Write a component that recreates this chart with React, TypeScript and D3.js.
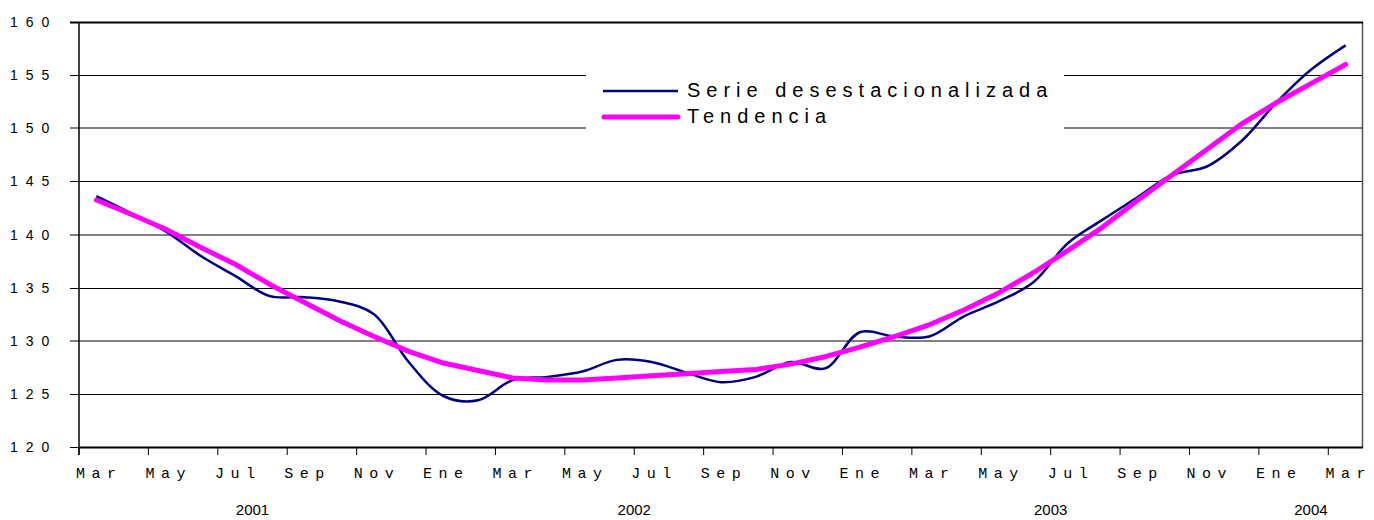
import React from "react";
import * as d3 from "d3";

// monthly categories, Mar 2001 .. Mar 2004
const months = ["Mar", "Abr", "May", "Jun", "Jul", "Ago", "Sep", "Oct", "Nov", "Dic",
  "Ene", "Feb", "Mar", "Abr", "May", "Jun", "Jul", "Ago", "Sep", "Oct", "Nov", "Dic",
  "Ene", "Feb", "Mar", "Abr", "May", "Jun", "Jul", "Ago", "Sep", "Oct", "Nov", "Dic",
  "Ene", "Feb", "Mar"];
const years = [2001, 2001, 2001, 2001, 2001, 2001, 2001, 2001, 2001, 2001,
  2002, 2002, 2002, 2002, 2002, 2002, 2002, 2002, 2002, 2002, 2002, 2002,
  2003, 2003, 2003, 2003, 2003, 2003, 2003, 2003, 2003, 2003, 2003, 2003,
  2004, 2004, 2004];

const serie = [143.6, 142.0, 140.3, 138.0, 136.1, 134.2, 134.1, 133.7, 132.5, 128.0,
  124.8, 124.4, 126.3, 126.6, 127.1, 128.2, 128.0, 127.0, 126.1, 126.6, 128.0, 127.4,
  130.8, 130.4, 130.4, 132.3, 133.7, 135.5, 139.2, 141.4, 143.5, 145.6, 146.4, 148.8,
  152.4, 155.5, 157.8];
const tendencia = [143.25, 141.9, 140.5, 138.8, 137.2, 135.3, 133.6, 131.9, 130.4, 129.0,
  127.9, 127.2, 126.5, 126.3, 126.3, 126.5, 126.7, 126.9, 127.1, 127.3, 127.8, 128.5,
  129.4, 130.4, 131.5, 132.9, 134.5, 136.4, 138.5, 140.7, 143.2, 145.6, 148.0, 150.4,
  152.4, 154.2, 156.0];

const yTicks = [120, 125, 130, 135, 140, 145, 150, 155, 160];

const W = 1374, H = 520;
const left = 79, right = 1363, top = 22, bottom = 447;

export default function App() {
  const idx = d3.range(months.length);
  const x = d3.scaleBand<number>().domain(idx).range([left, right]).padding(0);
  const bw = x.bandwidth();
  const cx = (i: number) => (x(i) as number) + bw / 2;
  const y = d3.scaleLinear().domain([120, 160]).range([bottom, top]);

  const lineSerie = d3.line<number>().x((d, i) => cx(i)).y(d => y(d)).curve(d3.curveCatmullRom);
  const lineTend = d3.line<number>().x((d, i) => cx(i)).y(d => y(d));

  // year groups for the second row of labels
  const groups = d3.groups(idx, i => years[i]).map(([yr, is]) => ({
    yr,
    mid: ((x(is[0]) as number) + (x(is[is.length - 1]) as number) + bw) / 2,
  }));

  const tickIdx = idx.filter(i => i % 2 === 0);

  return (
    <svg width={W} height={H} style={{ position: "absolute", left: 0, top: 0, background: "#fff" }}>
      {/* gridlines */}
      {yTicks.map(t => {
        const yy = Math.round(y(t));
        const even = t % 10 === 0 && t !== 120 && t !== 160;
        return (
          <g key={t}>
            <line x1={70} x2={right} y1={even ? yy : yy + 0.5} y2={even ? yy : yy + 0.5}
              stroke={even ? "#808080" : "#000"} strokeWidth={even ? 2 : 1}
              shapeRendering="crispEdges" />
            <text x={10} y={yy + 5} fontFamily="Liberation Sans, Arial, sans-serif" fontSize={14}
              letterSpacing={8} fill="#000">{t}</text>
          </g>
        );
      })}
      {/* axes and right border */}
      <line x1={left} x2={left} y1={top} y2={bottom + 8} stroke="#000" strokeWidth={1.5} />
      <line x1={right - 0.5} x2={right - 0.5} y1={top} y2={bottom} stroke="#555" strokeWidth={1.5} />
      <line x1={70} x2={right} y1={top + 0.5} y2={top + 0.5} stroke="#000" strokeWidth={2} />
      <line x1={left} x2={right} y1={bottom + 0.5} y2={bottom + 0.5} stroke="#000" strokeWidth={2} />

      {/* x ticks and labels */}
      {tickIdx.map(i => (
        <g key={i}>
          <line x1={x(i)} x2={x(i)} y1={bottom} y2={bottom + 8} stroke="#000" strokeWidth={1} />
          <text x={cx(i) + 3} y={478} textAnchor="middle" fontFamily="Liberation Mono, Courier New, monospace"
            fontSize={15} letterSpacing={6.5} fill="#000">{months[i]}</text>
        </g>
      ))}
      {groups.map(g => (
        <text key={g.yr} x={g.mid} y={515} textAnchor="middle" fontFamily="Liberation Sans, Arial, sans-serif"
          fontSize={15} fill="#000">{g.yr}</text>
      ))}

      {/* legend box */}
      <rect x={586} y={70} width={478} height={64} fill="#fff" />
      <line x1={603} x2={678} y1={91} y2={91} stroke="#000080" strokeWidth={2.5} />
      <line x1={604} x2={678} y1={117} y2={117} stroke="#FF00FF" strokeWidth={5} strokeLinecap="round" />
      <text x={687} y={97} fontFamily="Liberation Sans, Arial, sans-serif" fontSize={20} letterSpacing={6} fill="#000">
        Serie desestacionalizada
      </text>
      <text x={687} y={123} fontFamily="Liberation Sans, Arial, sans-serif" fontSize={20} letterSpacing={6} fill="#000">
        Tendencia
      </text>

      {/* series */}
      <path d={lineSerie(serie) || ""} fill="none" stroke="#000080" strokeWidth={2.5} strokeLinejoin="round" />
      <path d={lineTend(tendencia) || ""} fill="none" stroke="#FF00FF" strokeWidth={5}
        strokeLinejoin="round" strokeLinecap="round" />
    </svg>
  );
}
